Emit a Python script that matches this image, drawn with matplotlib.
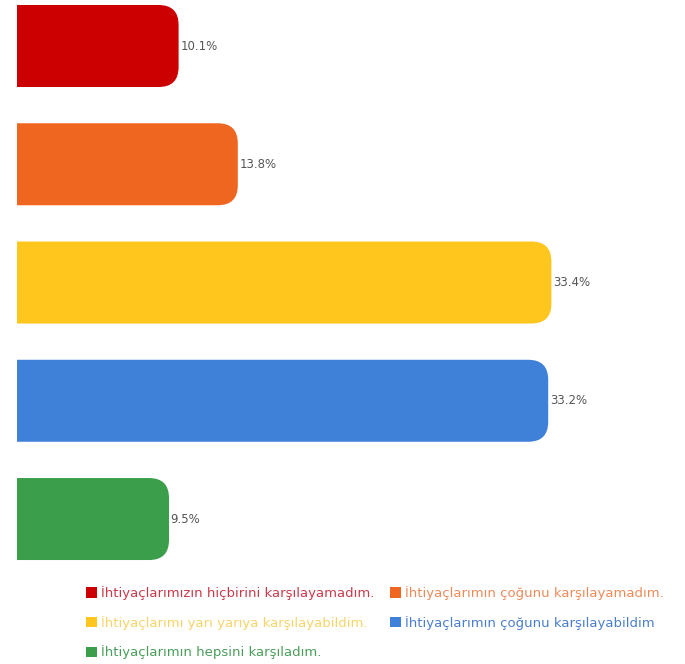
import numpy as np
import matplotlib.pyplot as plt
from matplotlib.patches import FancyBboxPatch, Patch

labels = ["İhtiyaçlarımızın hiçbirini karşılayamadım.",
          "İhtiyaçlarımın çoğunu karşılayamadım.",
          "İhtiyaçlarımı yarı yarıya karşılayabildim.",
          "İhtiyaçlarımın çoğunu karşılayabildim",
          "İhtiyaçlarımın hepsini karşıladım."]
values = [10.1, 13.8, 33.4, 33.2, 9.5]
colors = ["#CC0000", "#EE661F", "#FFC61E", "#3F80D8", "#3A9E4A"]
text_colors = ["#C83A4A", "#EE8A5A", "#F7D46A", "#4A7FCF", "#4A9E5A"]

W, H = 685, 664
fig = plt.figure(figsize=(W / 100, H / 100), dpi=100)
ax = fig.add_axes([17 / W, 94 / H, 640 / W, 570 / H])
ax.set_xlim(0, 40)
ax.set_ylim(4.431, -0.389)
ax.axis("off")

px_x = 640 / 40
px_y = 570 / (4.431 + 0.389)
r_px = 20
rx = r_px / px_x
bh = 82 / px_y

ypos = np.arange(len(values))
bars = ax.barh(ypos, values, height=bh, color="none")
for b, c, v in zip(bars, colors, values):
    x0, y0 = b.get_x(), b.get_y()
    w, h = b.get_width(), b.get_height()
    p = FancyBboxPatch((x0 - 3 * rx, y0), w + 3 * rx, h,
                       boxstyle="round,pad=0,rounding_size=%f" % rx,
                       mutation_aspect=px_x / px_y,
                       fc=c, ec="none")
    ax.add_patch(p)
    ax.text(w + 0.1, y0 + h / 2, "%.1f%%" % v, va="center", ha="left",
            fontsize=8.5, color="#555555", family="DejaVu Sans")

order = [0, 2, 4, 1, 3]
handles = [Patch(fc=colors[i], ec="none") for i in order]
leg = fig.legend(handles, [labels[i] for i in order], ncol=2,
                 loc="upper left", bbox_to_anchor=(74 / W, 1 - 574 / H),
                 frameon=False, handlelength=0.85, handleheight=0.85,
                 handletextpad=0.3, columnspacing=1.15, labelspacing=1.2,
                 prop={"family": "DejaVu Sans", "size": 9.5})
for t, i in zip(leg.get_texts(), order):
    t.set_color(text_colors[i])

fig.savefig("out.png", dpi=100, facecolor="white")
